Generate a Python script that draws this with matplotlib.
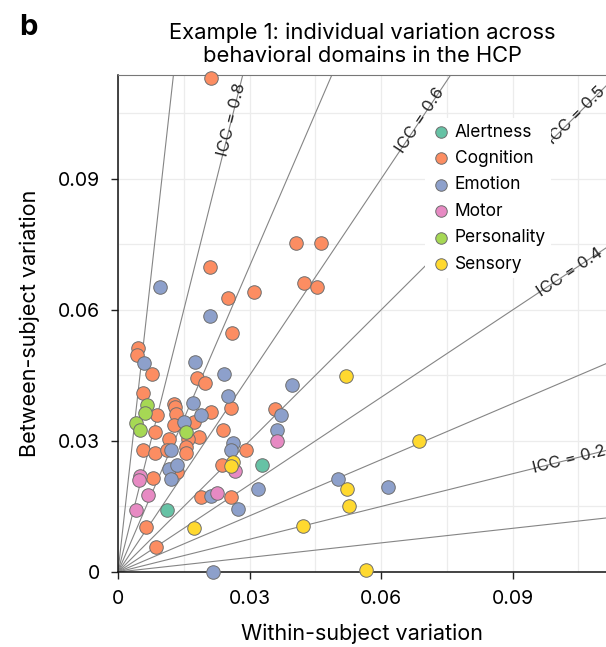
import matplotlib

matplotlib.use("Agg")
import matplotlib.pyplot as plt
import numpy as np
from matplotlib.ticker import MultipleLocator

plt.rcParams["font.family"] = ["Inter", "DejaVu Sans"]

# (within, between) per behavioral domain
ALERTNESS_X = [0.0329, 0.0112]
ALERTNESS_Y = [0.0245, 0.0142]

COGNITION_X = [0.0212, 0.0406, 0.0463, 0.0210, 0.0424, 0.0454, 0.0251, 0.0310,
               0.0260, 0.0046, 0.0043, 0.0078, 0.0180, 0.0198, 0.0057, 0.0128,
               0.0130, 0.0089, 0.0132, 0.0212, 0.0258, 0.0358, 0.0128, 0.0173,
               0.0084, 0.0240, 0.0185, 0.0160, 0.0116, 0.0057, 0.0084, 0.0112,
               0.0155, 0.0155, 0.0292, 0.0237, 0.0080, 0.0135, 0.0189, 0.0258,
               0.0064, 0.0087]
COGNITION_Y = [0.1131, 0.0753, 0.0753, 0.0698, 0.0662, 0.0653, 0.0627, 0.0641,
               0.0547, 0.0513, 0.0497, 0.0453, 0.0444, 0.0433, 0.0410, 0.0385,
               0.0378, 0.0360, 0.0362, 0.0366, 0.0376, 0.0373, 0.0337, 0.0344,
               0.0321, 0.0325, 0.0309, 0.0305, 0.0305, 0.0279, 0.0273, 0.0279,
               0.0286, 0.0273, 0.0279, 0.0245, 0.0215, 0.0229, 0.0172, 0.0172,
               0.0103, 0.0057]

EMOTION_X = [0.0096, 0.0210, 0.0059, 0.0176, 0.0242, 0.0397, 0.0251, 0.0171,
             0.0189, 0.0372, 0.0151, 0.0363, 0.0262, 0.0258, 0.0121, 0.0116,
             0.0135, 0.0121, 0.0319, 0.0212, 0.0274, 0.0217, 0.0502, 0.0616]
EMOTION_Y = [0.0653, 0.0586, 0.0479, 0.0481, 0.0453, 0.0428, 0.0403, 0.0387,
             0.0360, 0.0360, 0.0344, 0.0325, 0.0295, 0.0279, 0.0279, 0.0236,
             0.0245, 0.0213, 0.0190, 0.0174, 0.0144, 0.0000, 0.0213, 0.0195]

MOTOR_X = [0.0363, 0.0267, 0.0050, 0.0048, 0.0068, 0.0226, 0.0041]
MOTOR_Y = [0.0300, 0.0231, 0.0220, 0.0211, 0.0176, 0.0181, 0.0142]

PERSONALITY_X = [0.0066, 0.0062, 0.0041, 0.0050, 0.0155]
PERSONALITY_Y = [0.0382, 0.0364, 0.0341, 0.0325, 0.0321]

SENSORY_X = [0.0520, 0.0687, 0.0262, 0.0258, 0.0522, 0.0527, 0.0422, 0.0173, 0.0566]
SENSORY_Y = [0.0449, 0.0300, 0.0252, 0.0243, 0.0190, 0.0151, 0.0105, 0.0101, 0.0005]

DOMAINS = ["Alertness", "Cognition", "Emotion", "Motor", "Personality", "Sensory"]
COLORS = ["#66c2a5", "#fc8d62", "#8da0cb", "#e78ac3", "#a6d854", "#ffd92f"]
SERIES = [(ALERTNESS_X, ALERTNESS_Y), (COGNITION_X, COGNITION_Y),
          (EMOTION_X, EMOTION_Y), (MOTOR_X, MOTOR_Y),
          (PERSONALITY_X, PERSONALITY_Y), (SENSORY_X, SENSORY_Y)]

ICC_LEVELS = [0.1, 0.2, 0.3, 0.4, 0.5, 0.6, 0.7, 0.8, 0.9]
# where each ICC label sits (within-subject coordinate), only some are labelled
ICC_LABEL_X = {0.2: 0.1030, 0.4: 0.1030, 0.5: 0.1045, 0.6: 0.0690, 0.8: 0.0259}

XMAX, YMAX = 0.1113, 0.1138

fig = plt.figure(figsize=(6.06, 6.47), dpi=100)
ax = fig.add_axes([118 / 606, 75 / 647, 488 / 606, 497 / 647])
ax.set_xlim(0, XMAX)
ax.set_ylim(0, YMAX)

# iso-ICC rays: between / (between + within) = icc
xs = np.array([0, XMAX * 1.2])
for icc in ICC_LEVELS:
    slope = icc / (1 - icc)
    ax.plot(xs, slope * xs, color="#858585", lw=0.8, zorder=1)
    if icc in ICC_LABEL_X:
        lx = ICC_LABEL_X[icc]
        ax.text(lx, slope * lx, f"ICC = {icc:g}", fontsize=12,
                rotation=np.degrees(np.arctan(slope)), transform_rotates_text=True,
                rotation_mode="anchor", ha="center", va="center", zorder=2,
                clip_on=True, color="#222222")

for name, color, (x, y) in zip(DOMAINS, COLORS, SERIES):
    ax.scatter(x, y, s=95, color=color, edgecolor="#6e6e6e", linewidth=0.7,
               label=name, zorder=3, clip_on=False)

ticks = [0, 0.03, 0.06, 0.09]
ticklabels = ["0", "0.03", "0.06", "0.09"]
ax.set_xticks(ticks, ticklabels)
ax.set_yticks(ticks, ticklabels)
ax.xaxis.set_minor_locator(MultipleLocator(0.015))
ax.yaxis.set_minor_locator(MultipleLocator(0.015))
ax.grid(which="both", color="#ececec", lw=0.9, zorder=0)
ax.set_axisbelow(True)
ax.tick_params(which="major", labelsize=14, length=5, width=1, pad=8, color="#222222")
ax.tick_params(which="minor", length=0)
ax.spines["right"].set_visible(False)
ax.spines["top"].set_color("#777777")
for side in ("left", "bottom"):
    ax.spines[side].set_color("#111111")
    ax.spines[side].set_linewidth(1.1)

ax.set_xlabel("Within-subject variation", fontsize=15.5, labelpad=11)
ax.set_ylabel("Between-subject variation", fontsize=15.5, labelpad=13)
ax.set_title("Example 1: individual variation across\nbehavioral domains in the HCP",
             fontsize=15.8, pad=9, linespacing=1.2)

leg = ax.legend(loc="upper left", bbox_to_anchor=(0.612, 0.93), fontsize=12.5,
                frameon=True, framealpha=1, edgecolor="none", facecolor="white",
                handletextpad=0.2, labelspacing=0.54, borderpad=0.3,
                handlelength=1.2, scatterpoints=1, markerscale=0.85)
leg.set_zorder(4)

fig.text(0.046, 0.957, "b", fontsize=21, fontweight="bold", ha="center", va="center")

fig.savefig("out.png", dpi=100)
